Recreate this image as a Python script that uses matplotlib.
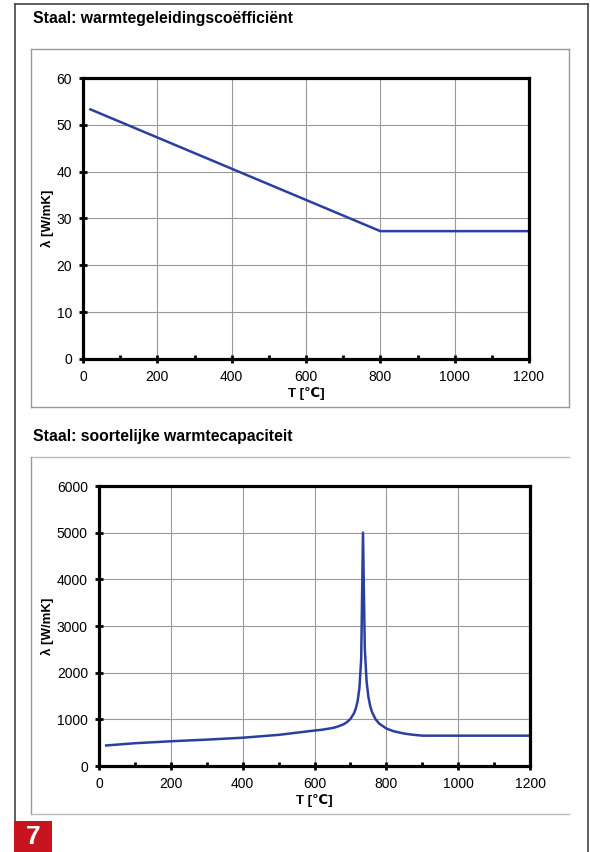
import matplotlib
matplotlib.use('Agg')
import matplotlib.pyplot as plt
from matplotlib.lines import Line2D
from matplotlib.patches import Rectangle

plt.rcParams['font.family'] = ['Liberation Sans', 'DejaVu Sans']

# warmtegeleidingscoefficient
T_lam = [20, 800, 1200]
lam = [53.3, 27.3, 27.3]

# soortelijke warmtecapaciteit
T_c = [20, 100, 200, 300, 400, 500, 600, 620, 650, 660, 680, 690, 700, 710, 715,
       720, 725, 730, 735, 740, 745, 750, 755, 760, 770, 780, 800, 820, 850, 870,
       900, 1200]
c = [440, 488, 530, 565, 606, 667, 760, 776, 814, 833, 890, 937, 1008, 1130, 1231,
     1388, 1666, 2291, 5000, 2525, 1818, 1483, 1287, 1159, 1002, 910, 803, 745, 695,
     673, 650, 650]

titles = ['Staal: warmtegeleidingscoëfficiënt', 'Staal: soortelijke warmtecapaciteit']

W, H = 590, 852
fig = plt.figure(figsize=(W / 100, H / 100), dpi=100)


def fx(x):
    return x / W


def fy(y):
    return 1 - y / H


def line(x0, y0, x1, y1, color='#666666', lw=1.0):
    fig.add_artist(Line2D([fx(x0), fx(x1)], [fy(y0), fy(y1)], color=color, lw=lw))


# page frame
line(15, 4, 588, 4, '#444444', 1.2)
line(15, 4, 15, 821, '#444444', 1.2)
line(588, 4, 588, 852, '#444444', 1.2)

# panel frames
line(31, 49, 569, 49, '#999999')
line(31, 407, 569, 407, '#999999')
line(31, 49, 31, 407, '#999999')
line(569, 49, 569, 407, '#999999')
line(31, 457, 569, 457, '#bbbbbb')
line(31, 457, 31, 814, '#999999')
line(31, 814, 569, 814, '#bbbbbb')

fig.text(fx(33), fy(18), titles[0], fontsize=11.3, fontweight='bold', va='center')
fig.text(fx(33), fy(437), titles[1], fontsize=11.3, fontweight='bold', va='center')

# red number box
fig.add_artist(Rectangle((fx(14), fy(852)), fx(52) - fx(14), fy(821) - fy(852),
                         transform=fig.transFigure, color='#c8141e', lw=0))
fig.text(fx(33), fy(837), '7', color='white', fontsize=19, fontweight='bold',
         ha='center', va='center')


def style(ax, ymax, ystep, ylab_x):
    ax.set_xlim(0, 1200)
    ax.set_ylim(0, ymax)
    ax.set_xticks(range(0, 1201, 200))
    ax.set_xticks(range(100, 1200, 200), minor=True)
    ax.set_yticks(range(0, ymax + 1, ystep))
    ax.grid(True, color='#999999', lw=0.8)
    ax.set_axisbelow(True)
    for s in ax.spines.values():
        s.set_linewidth(2.3)
        s.set_color('black')
    ax.tick_params(which='major', direction='inout', length=6, width=2, labelsize=10, pad=5)
    ax.tick_params(which='minor', axis='x', direction='in', length=3, width=2)
    ax.set_xlabel('T [℃]', fontsize=9.5, fontweight='bold', labelpad=2)
    ax.set_ylabel('λ [W/mK]', fontsize=9.5, fontweight='bold')
    ax.yaxis.set_label_coords(ylab_x, 0.5)


ax1 = fig.add_axes([fx(83), fy(359), fx(529) - fx(83), fy(78) - fy(359)])
ax1.plot(T_lam, lam, color='#2b3f9e', lw=1.8)
style(ax1, 60, 10, -0.065)

ax2 = fig.add_axes([fx(99), fy(766), fx(530) - fx(99), fy(486) - fy(766)])
ax2.plot(T_c, c, color='#2b3f9e', lw=1.8)
style(ax2, 6000, 1000, -0.105)

fig.savefig('out.png', dpi=100)
